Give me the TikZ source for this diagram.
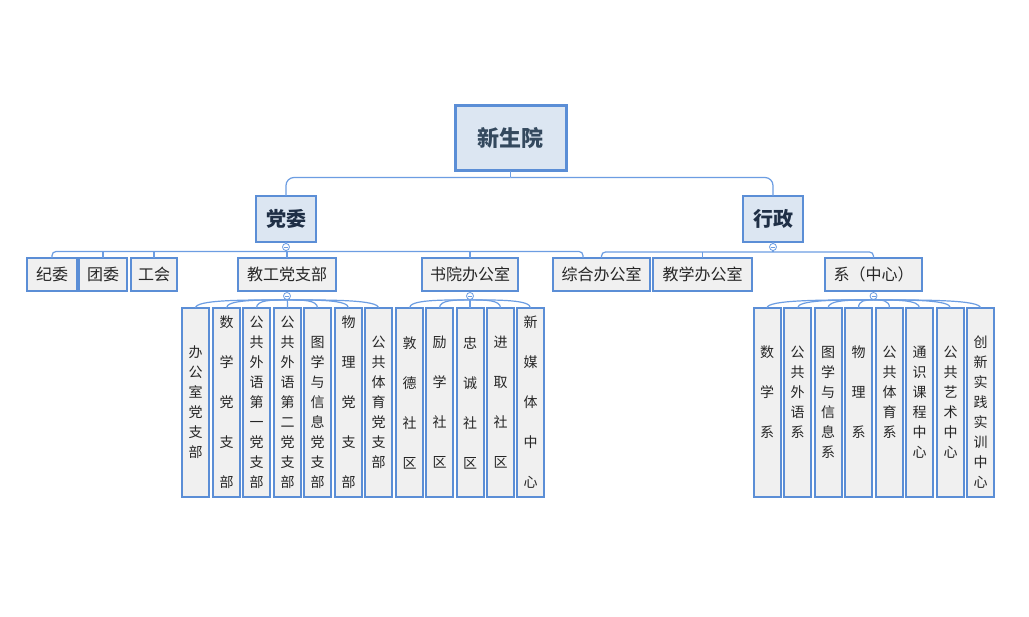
\documentclass[tikz,border=0pt]{standalone}
\usepackage{fontspec}
\newfontfamily\cjk{Noto Sans CJK SC}
\usetikzlibrary{calc}
\definecolor{bd}{HTML}{5B8ED6}
\definecolor{ln}{HTML}{6C9DE2}
\definecolor{topf}{HTML}{DCE6F2}
\definecolor{leaff}{HTML}{F0F0F0}
\definecolor{tt}{HTML}{1F2F46}
\definecolor{rt}{HTML}{34495E}
\definecolor{lt}{HTML}{262626}
\newcommand\leafnode[5]{%
  \node[leafbox] (#1) at (#2,402.5) {};
  \node[#3] (#1t) at ([yshift=#4]#1.center) {#5};}
\begin{document}
\begin{tikzpicture}[x=1pt,y=-1pt,
  box/.style={draw=bd, line width=2pt, inner sep=0pt, outer sep=0pt},
  rootbox/.style={box, line width=3pt, fill=topf, minimum width=111, minimum height=65,
    font=\cjk\bfseries\fontsize{22}{26}\selectfont, text=rt},
  midbox/.style={box, fill=topf, minimum width=60, minimum height=46,
    font=\cjk\bfseries\fontsize{20}{24}\selectfont, text=tt},
  lvbox/.style={box, fill=leaff, minimum height=33,
    font=\cjk\fontsize{16}{19}\selectfont, text=lt},
  leafbox/.style={box, fill=leaff, minimum width=27, minimum height=189},
  lta/.style={align=center, inner sep=0pt, text=lt, font=\cjk\fontsize{14}{20}\selectfont},
  ltb/.style={align=center, inner sep=0pt, text=lt, font=\cjk\fontsize{14}{40}\selectfont},
  conn/.style={draw=ln, line width=1.2pt},
  col/.style={circle, draw=ln, fill=white, line width=0.8pt, minimum size=7, inner sep=0pt,
    path picture={\draw[ln, line width=0.7pt] ([xshift=-2pt]path picture bounding box.center) -- ([xshift=2pt]path picture bounding box.center);}}
]
\fill[white] (0,0) rectangle (1029,617);
\useasboundingbox (0,0) rectangle (1029,617);

% top levels
\node[rootbox] (root) at (510.5,138.5) {新生院};
\node[midbox] (dw) at (286,219) {党委};
\node[midbox] (xz) at (773,219) {行政};

% level 2
\node[lvbox, minimum width=50] (jw) at (52,274.5) {纪委};
\node[lvbox, minimum width=48] (tw) at (103,274.5) {团委};
\node[lvbox, minimum width=46] (gh) at (154,274.5) {工会};
\node[lvbox, minimum width=98] (jg) at (287,274.5) {教工党支部};
\node[lvbox, minimum width=96] (sy) at (470,274.5) {书院办公室};
\node[lvbox, minimum width=97] (zh) at (601.5,274.5) {综合办公室};
\node[lvbox, minimum width=99] (jx) at (702.5,274.5) {教学办公室};
\node[lvbox, minimum width=97] (xi) at (873.5,274.5) {系（中心）};

% leaves under 教工党支部
\leafnode{a1}{195.5}{lta}{0pt}{办\\公\\室\\党\\支\\部}
\leafnode{a2}{226.5}{ltb}{0pt}{数\\学\\党\\支\\部}
\leafnode{a3}{256.5}{lta}{0pt}{公\\共\\外\\语\\第\\一\\党\\支\\部}
\leafnode{a4}{287.5}{lta}{0pt}{公\\共\\外\\语\\第\\二\\党\\支\\部}
\leafnode{a5}{317.5}{lta}{-10pt}{图\\学\\与\\信\\息\\党\\支\\部}
\leafnode{a6}{348.5}{ltb}{0pt}{物\\理\\党\\支\\部}
\leafnode{a7}{378.5}{lta}{0pt}{公\\共\\体\\育\\党\\支\\部}
% leaves under 书院办公室
\leafnode{b1}{409.5}{ltb}{0pt}{敦\\德\\社\\区}
\leafnode{b2}{439.5}{ltb}{0pt}{励\\学\\社\\区}
\leafnode{b3}{470}{ltb}{0pt}{忠\\诚\\社\\区}
\leafnode{b4}{500.5}{ltb}{0pt}{进\\取\\社\\区}
\leafnode{b5}{530.5}{ltb}{0pt}{新\\媒\\体\\中\\心}
% leaves under 系（中心）
\leafnode{c1}{767}{ltb}{10pt}{数\\学\\系}
\leafnode{c2}{797.5}{lta}{10pt}{公\\共\\外\\语\\系}
\leafnode{c3}{828}{lta}{0pt}{图\\学\\与\\信\\息\\系}
\leafnode{c4}{858.5}{ltb}{10pt}{物\\理\\系}
\leafnode{c5}{889.5}{lta}{10pt}{公\\共\\体\\育\\系}
\leafnode{c6}{919.5}{lta}{0pt}{通\\识\\课\\程\\中\\心}
\leafnode{c7}{950.5}{lta}{0pt}{公\\共\\艺\\术\\中\\心}
\leafnode{c8}{980.5}{lta}{-10pt}{创\\新\\实\\践\\实\\训\\中\\心}

% junction coordinates
\coordinate (rj) at (510.5,177.5);
\coordinate (dh) at (286,251.5);
\coordinate (xh) at (773,252);
\coordinate (zx) at (583,258);

% connectors from root
\draw[conn] (root.south) -- (rj);
\draw[conn, rounded corners=8] (rj) -| (dw.north);
\draw[conn, rounded corners=8] (rj) -| (xz.north);

% connectors from 党委
\draw[conn] (dw.south) -- (dh);
\draw[conn, rounded corners=4] (jw.north) |- (dh) -| (zx);
\draw[conn] (tw.north) -- (tw.north |- dh);
\draw[conn] (gh.north) -- (gh.north |- dh);
\draw[conn] (jg.north) -- (jg.north |- dh);
\draw[conn] (sy.north) -- (sy.north |- dh);

% connectors from 行政
\draw[conn] (xz.south) -- (xh);
\draw[conn, rounded corners=4] (zh.north) |- (xh) -| (xi.north);
\draw[conn] (jx.north) -- (jx.north |- xh);

% collapse markers
\node[col] (k1) at (286,247) {};
\node[col] (k2) at (773,247) {};
\node[col] (k3) at (287,296) {};
\node[col] (k4) at (470,296) {};
\node[col] (k5) at (873.5,296) {};

% fan connectors to leaves
\foreach \p/\l in {k3/a1,k3/a2,k3/a3,k3/a4,k3/a5,k3/a6,k3/a7,
                   k4/b1,k4/b2,k4/b3,k4/b4,k4/b5,
                   k5/c1,k5/c2,k5/c3,k5/c4,k5/c5,k5/c6,k5/c7,k5/c8}{
  \draw[conn] (\p.south) .. controls ($(\p.south)!0.5!(\l.north |- \p.south)$) and (\l.north |- \p.south) .. (\l.north);
}
\end{tikzpicture}
\end{document}
